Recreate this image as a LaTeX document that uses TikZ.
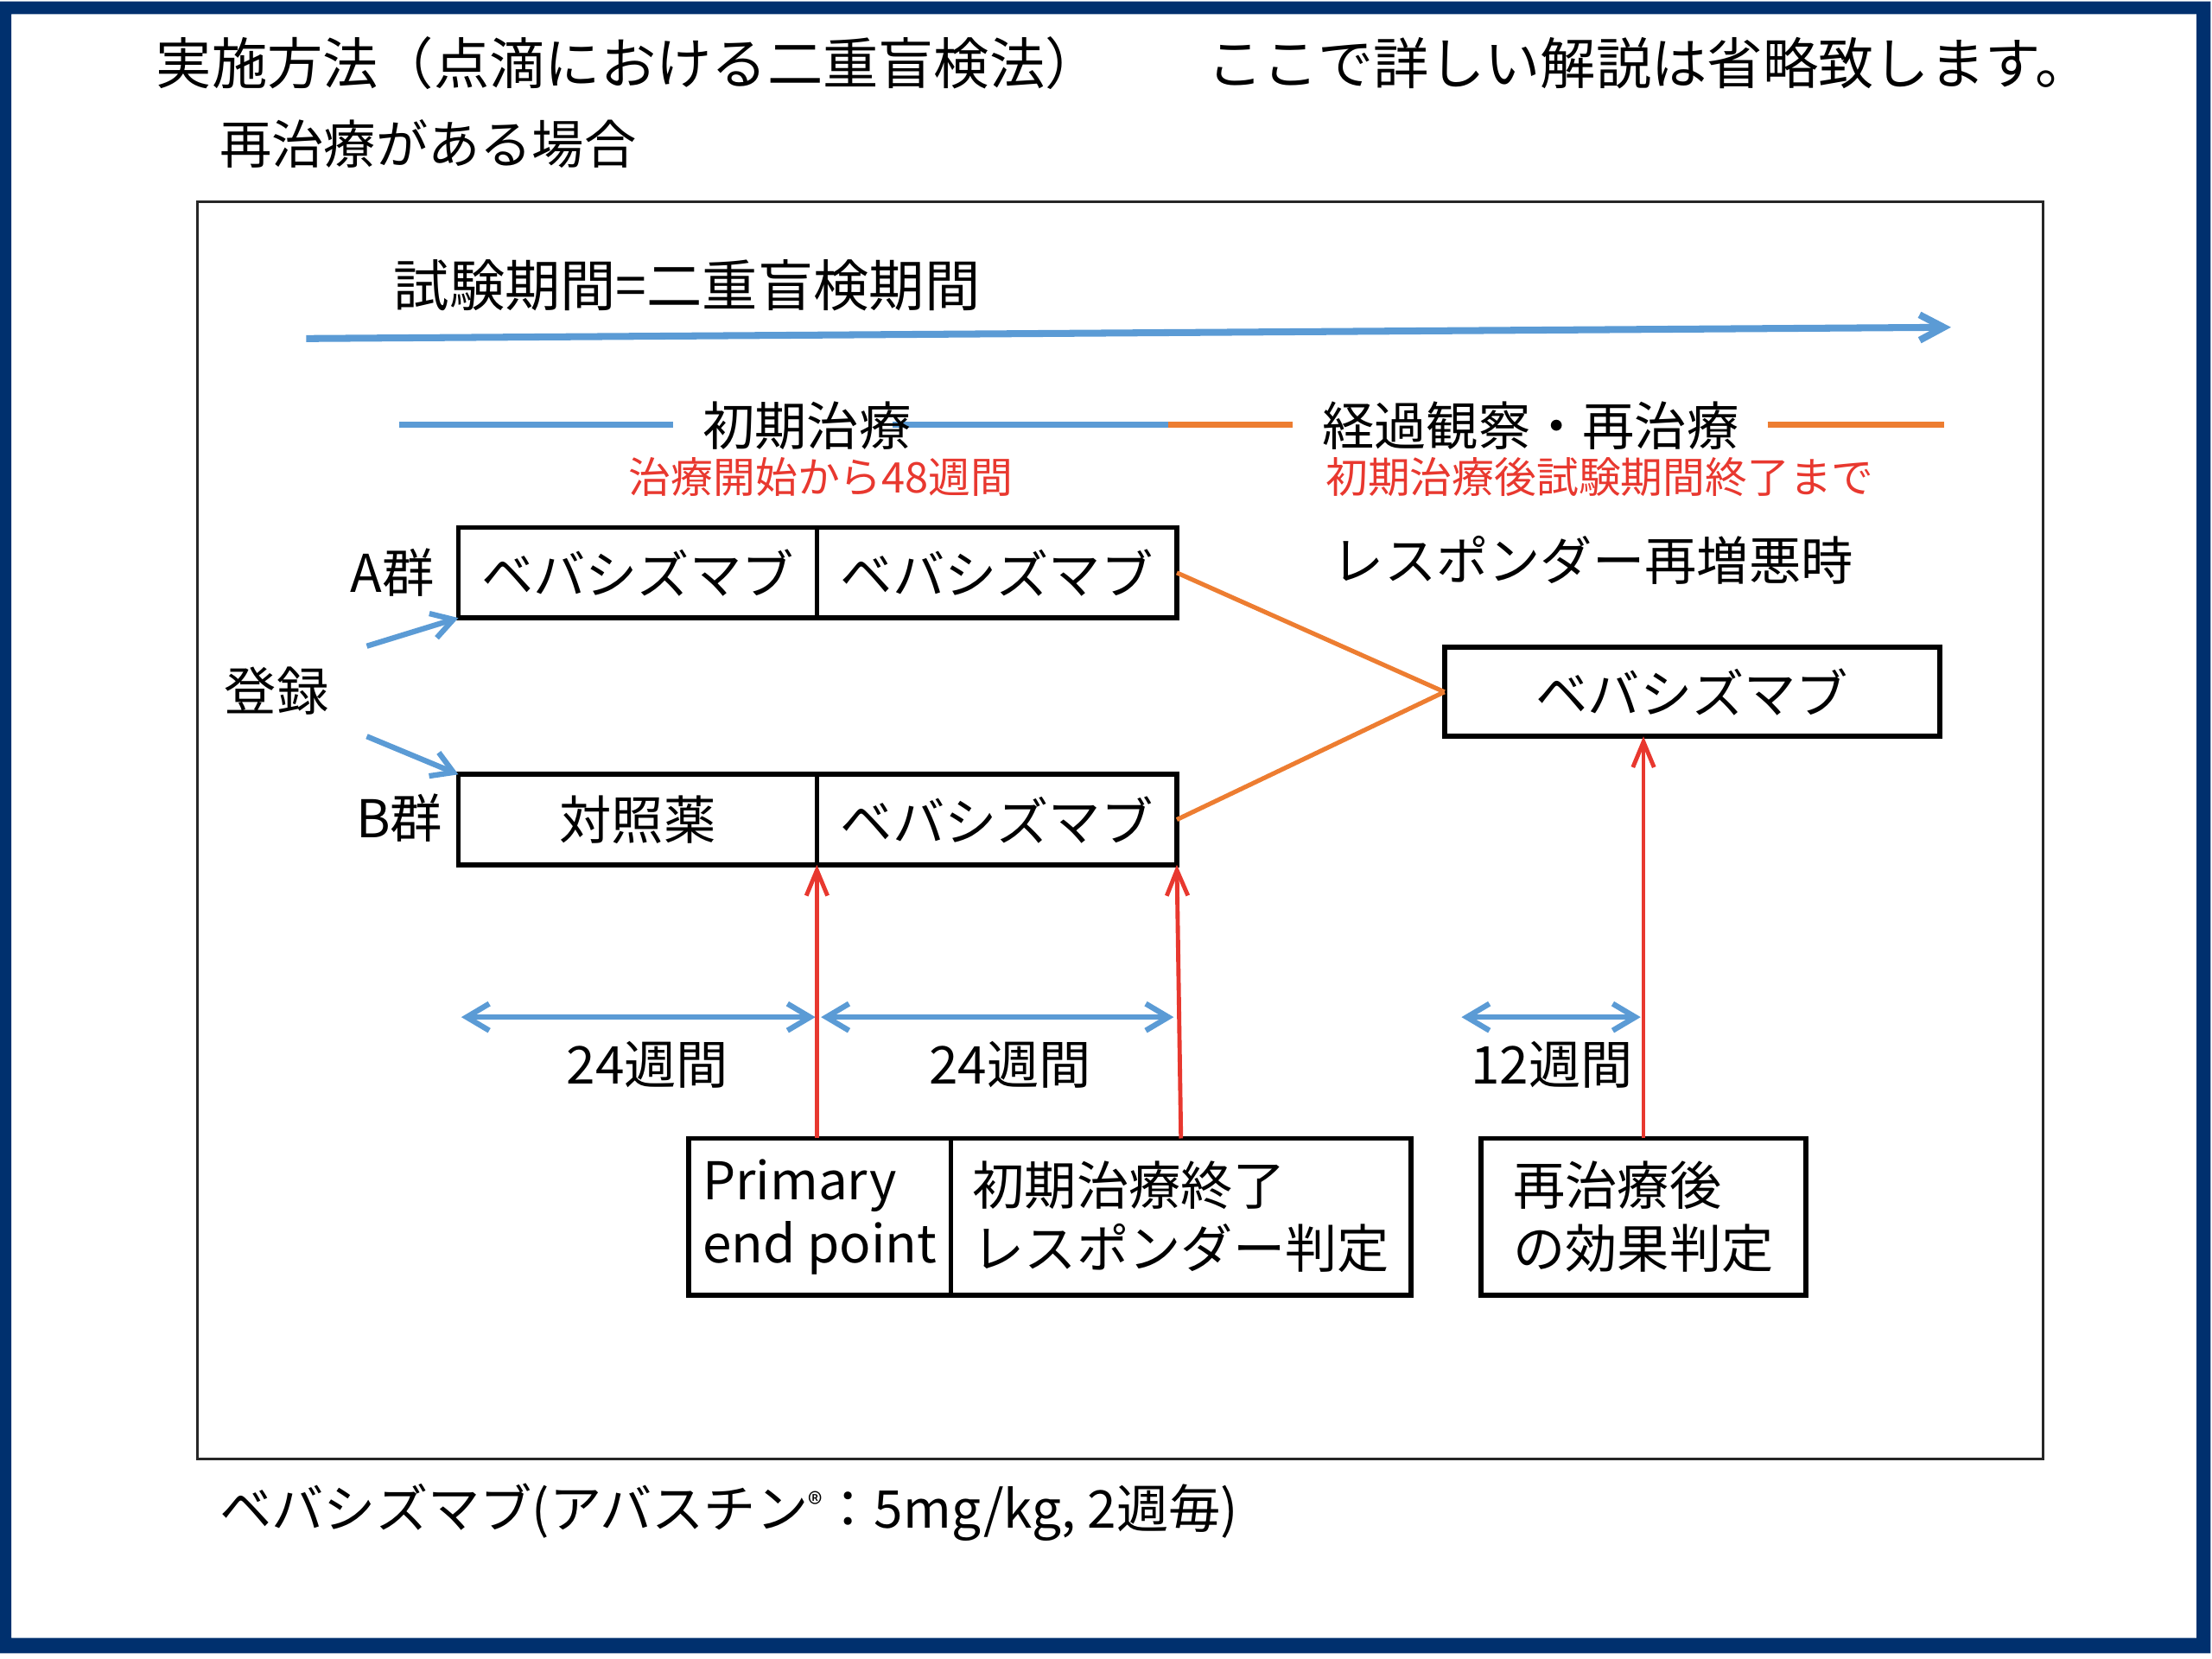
\documentclass[tikz,border=0pt]{standalone}
\usepackage{fontspec}
\setmainfont{Noto Sans CJK JP}
\usetikzlibrary{arrows.meta}
\usetikzlibrary{positioning}
\definecolor{navy}{HTML}{00306E}
\definecolor{lineblue}{HTML}{5B9BD5}
\definecolor{lineorange}{HTML}{ED7D31}
\definecolor{linered}{HTML}{E8382F}
\newcommand{\bodysize}{\fontsize{10.5}{12.7}\selectfont}
\newcommand{\headsize}{\fontsize{11.2}{13}\selectfont}
\newcommand{\notesize}{\fontsize{8.5}{10}\selectfont}
\tikzset{>=latex}
\tikzstyle{arm} = [rectangle, draw=black, line width=1pt, outer sep=0, inner sep=0, minimum height=0.64cm]
\tikzstyle{rednote} = [font=\notesize, text=linered]
\tikzstyle{timeline} = [draw=lineblue, line width=1.4pt, -{Straight Barb[length=1.7mm, width=1.8mm]}]
\tikzstyle{phaseblue} = [draw=lineblue, line width=1.3pt]
\tikzstyle{phaseorange} = [draw=lineorange, line width=1.3pt]
\tikzstyle{regarrow} = [draw=lineblue, line width=1.1pt, -{Straight Barb[length=1.5mm, width=1.8mm]}]
\tikzstyle{spanarrow} = [draw=lineblue, line width=1.1pt, {Straight Barb[length=1.6mm, width=1.9mm]}-{Straight Barb[length=1.6mm, width=1.9mm]}]
\tikzstyle{orangeline} = [draw=lineorange, line width=0.9pt]
\tikzstyle{redarrow} = [draw=linered, line width=0.85pt, -{Straight Barb[length=1.8mm, width=1.5mm]}]

\begin{document}
\begin{tikzpicture}[x=0.01cm, y=-0.01cm, every node/.style={font=\bodysize}]
\useasboundingbox (0,0) rectangle (1568,1176);
% frame
\fill[navy, even odd rule] (0,1) rectangle (1567,1172) (8,10) rectangle (1557,1161);
\draw[line width=0.5pt, draw=black!85] (140,143) rectangle (1448,1034);

% headings
\node[anchor=west, inner sep=0, font=\headsize] (title) at (110,45) {実施方法（点滴における二重盲検法）};
\node[anchor=west, inner sep=0, font=\headsize] (remark) at (855,45) {ここで詳しい解説は省略致します。};
\node[anchor=west, inner sep=0] (case) at (155,102) {再治療がある場合};

% study period
\node[font=\headsize] (period) at (487,202) {試験期間=二重盲検期間};
\coordinate (t0) at (217,240);
\coordinate (t1) at (1383,232);
\draw[timeline] (t0) -- (t1);

% phases
\coordinate (p0) at (283,301);
\coordinate (p1) at (477,301);
\coordinate (p2) at (633,301);
\coordinate (p3) at (828,301);
\coordinate (p4) at (916,301);
\coordinate (p5) at (1253,301);
\coordinate (p6) at (1378,301);
\draw[phaseblue] (p0) -- (p1);
\draw[phaseblue] (p2) -- (p3);
\draw[phaseorange] (p3) -- (p4);
\draw[phaseorange] (p5) -- (p6);
\node (ph1) at (572,302) {初期治療};
\node (ph2) at (1085,302) {経過観察・再治療};
\node[rednote] (ph1note) at (582,338) {治療開始から48週間};
\node[rednote] (ph2note) at (1134,338) {初期治療後試験期間終了まで};

% arms
\node[arm, minimum width=2.54cm] (a1) at (452,406) {ベバシズマブ};
\node[arm, minimum width=2.55cm, right=0pt of a1] (a2) {ベバシズマブ};
\node[arm, minimum width=2.54cm] (b1) at (452,581) {対照薬};
\node[arm, minimum width=2.55cm, right=0pt of b1] (b2) {ベバシズマブ};
\node (ga) at (278,406) {A群};
\node (gb) at (283,580) {B群};
\node (reg) at (196,490) {登録};
\coordinate (ra) at (260,458);
\coordinate (rb) at (260,522);
\draw[regarrow] (ra) -- (a1.south west);
\draw[regarrow] (rb) -- (b1.north west);

% retreatment
\node (resp) at (1129,397) {レスポンダー再増悪時};
\node[arm, minimum width=3.51cm, minimum height=0.63cm] (re) at (1199.5,490.5) {ベバシズマブ};
\draw[orangeline] (a2.east) -- (re.west);
\draw[orangeline] (b2.east) -- (re.west);

% durations
\coordinate (w0) at (327,721);
\coordinate (w1) at (578,721);
\coordinate (w2) at (582,721);
\coordinate (w3) at (832,721);
\coordinate (w4) at (1036,721);
\coordinate (w5) at (1163,721);
\draw[spanarrow] (w0) -- (w1);
\draw[spanarrow] (w2) -- (w3);
\draw[spanarrow] (w4) -- (w5);
\node (d1) at (459,755) {24週間};
\node (d2) at (716,755) {24週間};
\node (d3) at (1100,755) {12週間};

% evaluation points
\node[arm, minimum width=1.86cm, minimum height=1.11cm, align=left] (pe) at (581,862.5) {Primary\\end point};
\node[arm, minimum width=3.26cm, minimum height=1.11cm, align=left, right=0pt of pe] (judge) {初期治療終了\\レスポンダー判定};
\node[arm, minimum width=2.30cm, minimum height=1.11cm, align=left] (after) at (1165,862.5) {再治療後\\の効果判定};
\draw[redarrow] (pe.north -| b1.south east) -- (b1.south east);
\draw[redarrow] (judge.north) -- (b2.south east);
\draw[redarrow] (after.north) -- (after.north |- re.south);

% footnote
\node[anchor=west, inner sep=0] (foot) at (155,1072) {ベバシズマブ(アバスチン\raisebox{0.45ex}{\fontsize{6}{7}\selectfont ®}：5mg/kg, 2週毎)};
\end{tikzpicture}
\end{document}
